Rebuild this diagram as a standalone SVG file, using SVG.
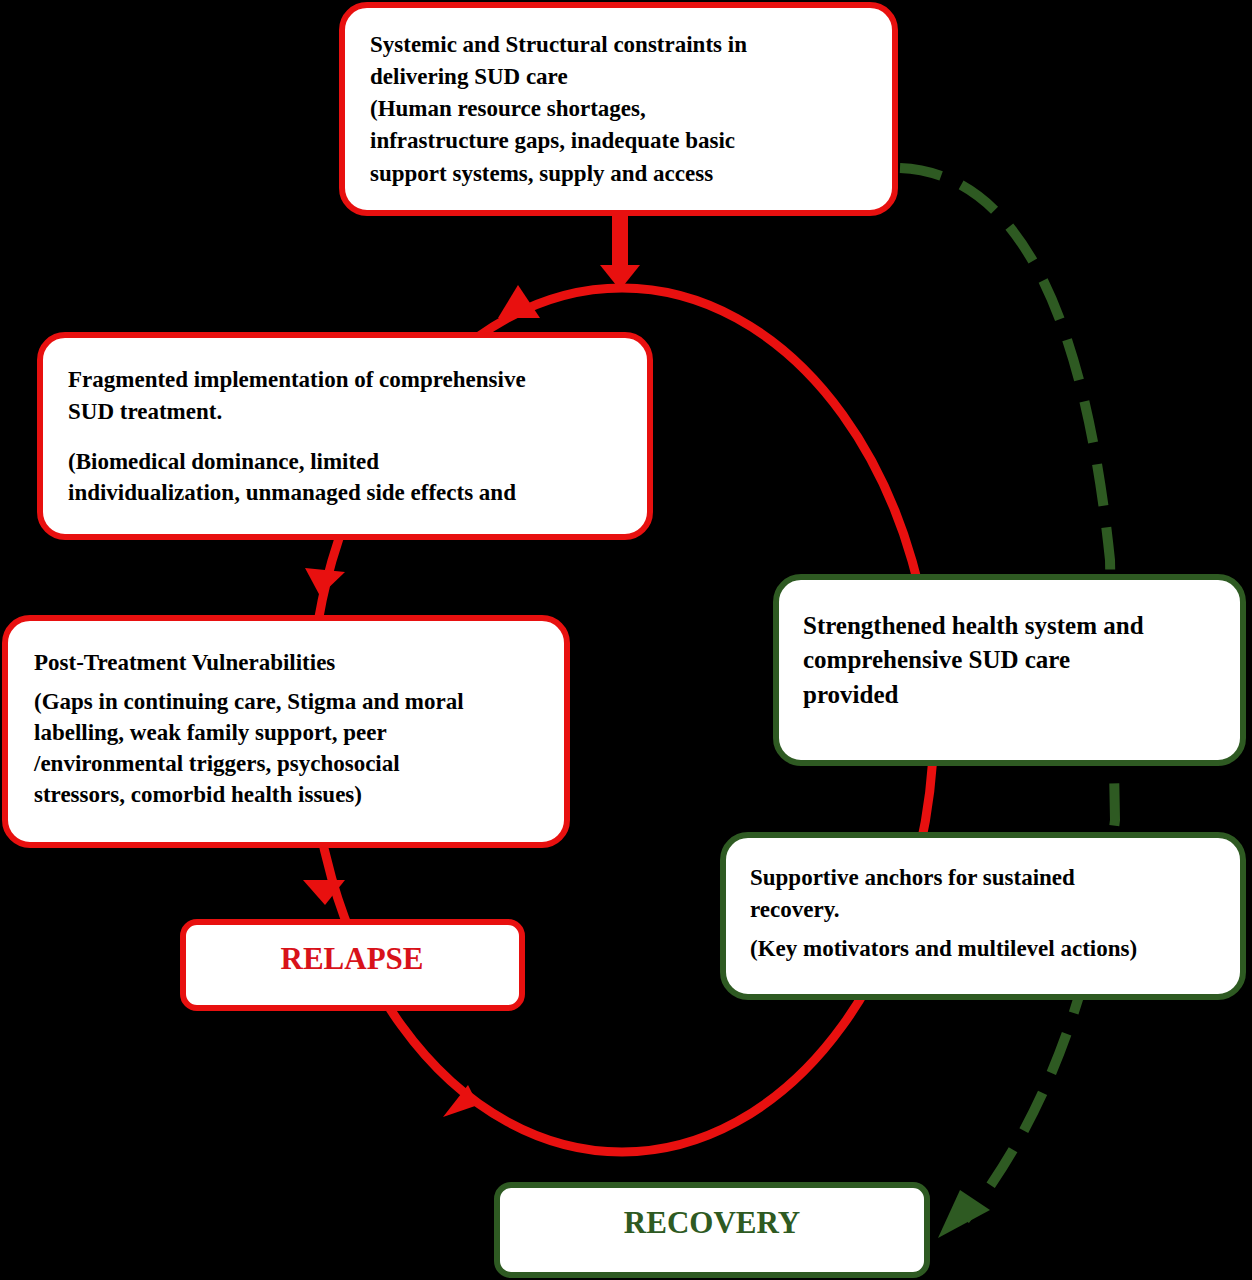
<svg xmlns="http://www.w3.org/2000/svg" width="1252" height="1280" viewBox="0 0 1252 1280">
<style>
.bx{fill:#fff;stroke-width:6}
.r{stroke:#e8100f}.g{stroke:#2e5a22}
text{font-family:"Liberation Serif","DejaVu Serif",serif;font-weight:bold;font-size:23px;fill:#000}
.big{font-size:31px}
</style>
<rect width="1252" height="1280" fill="#000"/>
<g id="connectors">
<ellipse cx="622" cy="720" rx="312" ry="432" fill="none" stroke="#e8100f" stroke-width="9"/>
<path d="M900,168 Q1070,175 1110,560 L1115,820 Q1085,1070 965,1220" fill="none" stroke="#2e5a22" stroke-width="10" stroke-dasharray="42,22"/>
<polygon points="938,1238 990,1210 960,1190" fill="#2e5a22"/>
<rect x="612" y="213" width="16" height="55" fill="#e8100f"/>
<polygon points="600,265 640,265 620,290" fill="#e8100f"/>
<polygon points="498,318 540,318 518,285" fill="#e8100f"/>
<polygon points="305,568 345,572 320,596" fill="#e8100f"/>
<polygon points="303,880 345,880 325,905" fill="#e8100f"/>
<polygon points="443,1117 478,1105 468,1085" fill="#e8100f"/>
</g>
<g id="n1"><rect class="bx r" x="342" y="5" width="553" height="208" rx="25"/>
<text x="370" y="52">Systemic and Structural constraints in</text>
<text x="370" y="84">delivering SUD care</text>
<text x="370" y="116">(Human resource shortages,</text>
<text x="370" y="148">infrastructure gaps, inadequate basic</text>
<text x="370" y="181">support systems, supply and access</text></g>
<g id="n2"><rect class="bx r" x="40" y="335" width="610" height="202" rx="25"/>
<text x="68" y="387">Fragmented implementation of comprehensive</text>
<text x="68" y="419">SUD treatment.</text>
<text x="68" y="469">(Biomedical dominance, limited</text>
<text x="68" y="500">individualization, unmanaged side effects and</text></g>
<g id="n3"><rect class="bx r" x="5" y="618" width="562" height="227" rx="25"/>
<text x="34" y="670">Post-Treatment Vulnerabilities</text>
<text x="34" y="709">(Gaps in continuing care, Stigma and moral</text>
<text x="34" y="740">labelling, weak family support, peer</text>
<text x="34" y="771">/environmental triggers, psychosocial</text>
<text x="34" y="802">stressors, comorbid health issues)</text></g>
<g id="n4"><rect class="bx r" x="183" y="922" width="339" height="86" rx="14"/>
<text class="big" x="352" y="969" text-anchor="middle" style="fill:#d8121a">RELAPSE</text></g>
<g id="n5"><rect class="bx g" x="776" y="577" width="467" height="186" rx="25"/>
<text x="803" y="634" style="font-size:25px">Strengthened health system and</text>
<text x="803" y="668" style="font-size:25px">comprehensive SUD care</text>
<text x="803" y="703" style="font-size:25px">provided</text></g>
<g id="n6"><rect class="bx g" x="723" y="835" width="520" height="162" rx="25"/>
<text x="750" y="885">Supportive anchors for sustained</text>
<text x="750" y="917">recovery.</text>
<text x="750" y="956">(Key motivators and multilevel actions)</text></g>
<g id="n7"><rect class="bx g" x="497" y="1185" width="430" height="90" rx="14"/>
<text class="big" x="712" y="1233" text-anchor="middle" style="fill:#2e5a22">RECOVERY</text></g>
</svg>
